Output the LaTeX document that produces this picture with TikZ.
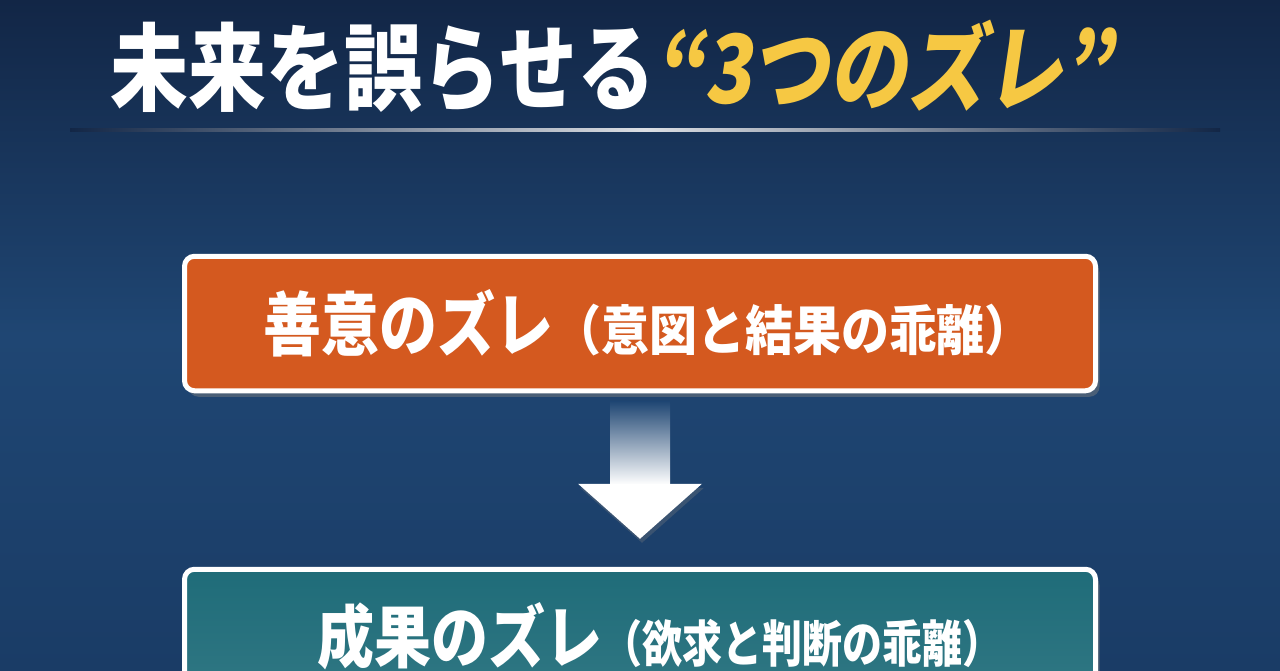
\documentclass[tikz,border=0pt]{standalone}
\usepackage{fontspec}
\usepackage{graphicx}
\usepackage{tikz}
\usetikzlibrary{positioning,shadows}

\newfontfamily\cjk{Noto Sans CJK JP}
\newfontfamily\cjkslant{Noto Sans CJK JP}[FakeSlant=0.18]

\definecolor{bgtop}{HTML}{122646}
\definecolor{bgmid}{HTML}{1F4673}
\definecolor{bgbot}{HTML}{1A3C66}
\definecolor{titleyellow}{HTML}{F6C843}
\definecolor{goodorange}{HTML}{D4591F}
\definecolor{resteal}{HTML}{1F6C79}

\begin{document}
\begin{tikzpicture}[x=0.5pt,y=-0.5pt,font=\cjk\bfseries]

  \tikzstyle{every box}=[rectangle,draw=white,line width=2.5pt,rounded corners=5pt,
                         minimum width=455.5pt,minimum height=67.25pt,text=white,
                         inner sep=0pt,
                         drop shadow={opacity=0.45,shadow xshift=2pt,shadow yshift=-3pt}]

  % background
  \useasboundingbox (0,0) rectangle (1280,670);
  \shade[top color=bgtop,bottom color=bgbot,middle color=bgmid] (0,0) rectangle (1280,670);
  \clip (0,0) rectangle (1280,670);

  % title and rule
  \node (T) at (612,66) {\scalebox{1}[1.22]{\fontsize{39}{39}\selectfont\color{white}未来を誤らせる%
    {\cjkslant\bfseries\color{titleyellow}“3つのズレ”}}};
  \shade[left color=bgtop,right color=bgtop,middle color=white!85!bgtop]
    (70,128.5) rectangle (1220,131.5);

  % boxes
  \node[every box,fill=goodorange] (G) at (640,323.5)
    {\hspace*{8pt}\scalebox{1}[1.2]{\fontsize{29}{29}\selectfont 善意のズレ}%
     \scalebox{1}[1.12]{\fontsize{24}{24}\selectfont （意図と結果の乖離）}};
  \node[every box,top color=resteal,bottom color=resteal!92!white] (R) at (640,636.5)
    {\hspace*{20pt}\scalebox{1}[1.2]{\fontsize{28.5}{28.5}\selectfont 成果のズレ}%
     \scalebox{1}[1.25]{\fontsize{20}{20}\selectfont （欲求と判断の乖離）}};

  % arrow
  \shade[top color=bgmid,bottom color=white]
    ([xshift=-15pt,yshift=-4pt]G.south) rectangle ([xshift=15pt,yshift=41pt]R.north);
  \fill[white,drop shadow={opacity=0.3,shadow xshift=1pt,shadow yshift=-2pt}]
    ([xshift=-31pt,yshift=41.5pt]R.north) -- ([xshift=31pt,yshift=41.5pt]R.north)
    -- ([yshift=14pt]R.north) -- cycle;
\end{tikzpicture}
\end{document}
